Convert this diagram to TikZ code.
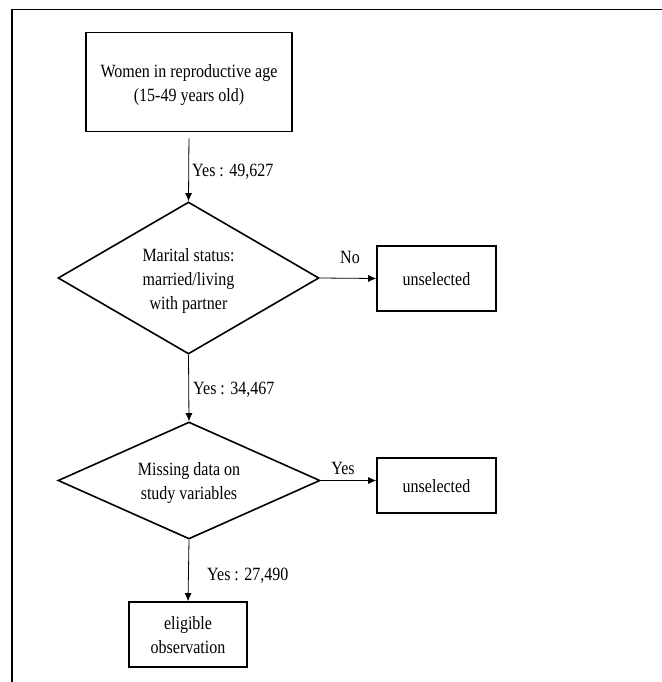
\documentclass[tikz,border=0pt]{standalone}
\usepackage{fontspec}
\usepackage{graphicx}
\setmainfont{Liberation Serif}
\usetikzlibrary{shapes.geometric,arrows.meta}
\newcommand\tallt[1]{\raisebox{-2.5pt}[\height][\depth]{\scalebox{1}[1.17]{\begin{tabular}{@{}c@{}}#1\end{tabular}}}}
\begin{document}
\begin{tikzpicture}[x=1pt,y=-1pt,
  font=\fontsize{16}{20.6}\selectfont,
  boxnode/.style={draw,line width=1.6pt,align=center,inner sep=0pt},
  decnode/.style={draw,diamond,line width=1.6pt,align=center,inner sep=0pt},
  conn/.style={line width=0.8pt,-{Latex[length=8pt,width=7pt]}},
  lbl/.style={inner sep=0pt}]
\useasboundingbox (0,0) rectangle (661,682);
% frame (only top and left edges visible)
\draw[line width=1.8pt] (12,690) -- (12,9.5) -- (670,9.5);
% nodes
\node[boxnode,minimum width=206pt,minimum height=99pt] (top) at (189,82) {\tallt{Women in reproductive age\\(15-49 years old)}};
\node[decnode,minimum width=261pt,minimum height=152pt,shape aspect=1.72] (d1) at (188.5,278) {\tallt{Marital status:\\married/living\\with partner}};
\node[boxnode,minimum width=119pt,minimum height=65pt] (u1) at (436.5,278.5) {\tallt{unselected}};
\node[decnode,minimum width=262pt,minimum height=117pt,shape aspect=2.24] (d2) at (189,480.5) {\tallt{Missing data on\\study variables}};
\node[boxnode,minimum width=119pt,minimum height=55pt] (u2) at (436.5,485.5) {\tallt{unselected}};
\node[boxnode,minimum width=118pt,minimum height=65pt] (el) at (188,634.5) {\tallt{eligible\\observation}};
% connectors
\draw[conn,shorten <=6pt] (top.south) -- (d1.north);
\draw[conn] (d1.east) -- (u1.west);
\draw[conn] (d1.south) -- (d2.north);
\draw[conn] (d2.east) -- (d2.east -| u2.west);
\draw[conn] (d2.south) -- (el.north);
% labels
\node[lbl,anchor=west] (l1) at (192,169) {\tallt{Yes : 49,627}};
\node[lbl] (l2) at (350,256) {\tallt{No}};
\node[lbl,anchor=west] (l3) at (193,387) {\tallt{Yes : 34,467}};
\node[lbl] (l4) at (343,467) {\tallt{Yes}};
\node[lbl,anchor=west] (l5) at (207,573) {\tallt{Yes : 27,490}};
\end{tikzpicture}
\end{document}
